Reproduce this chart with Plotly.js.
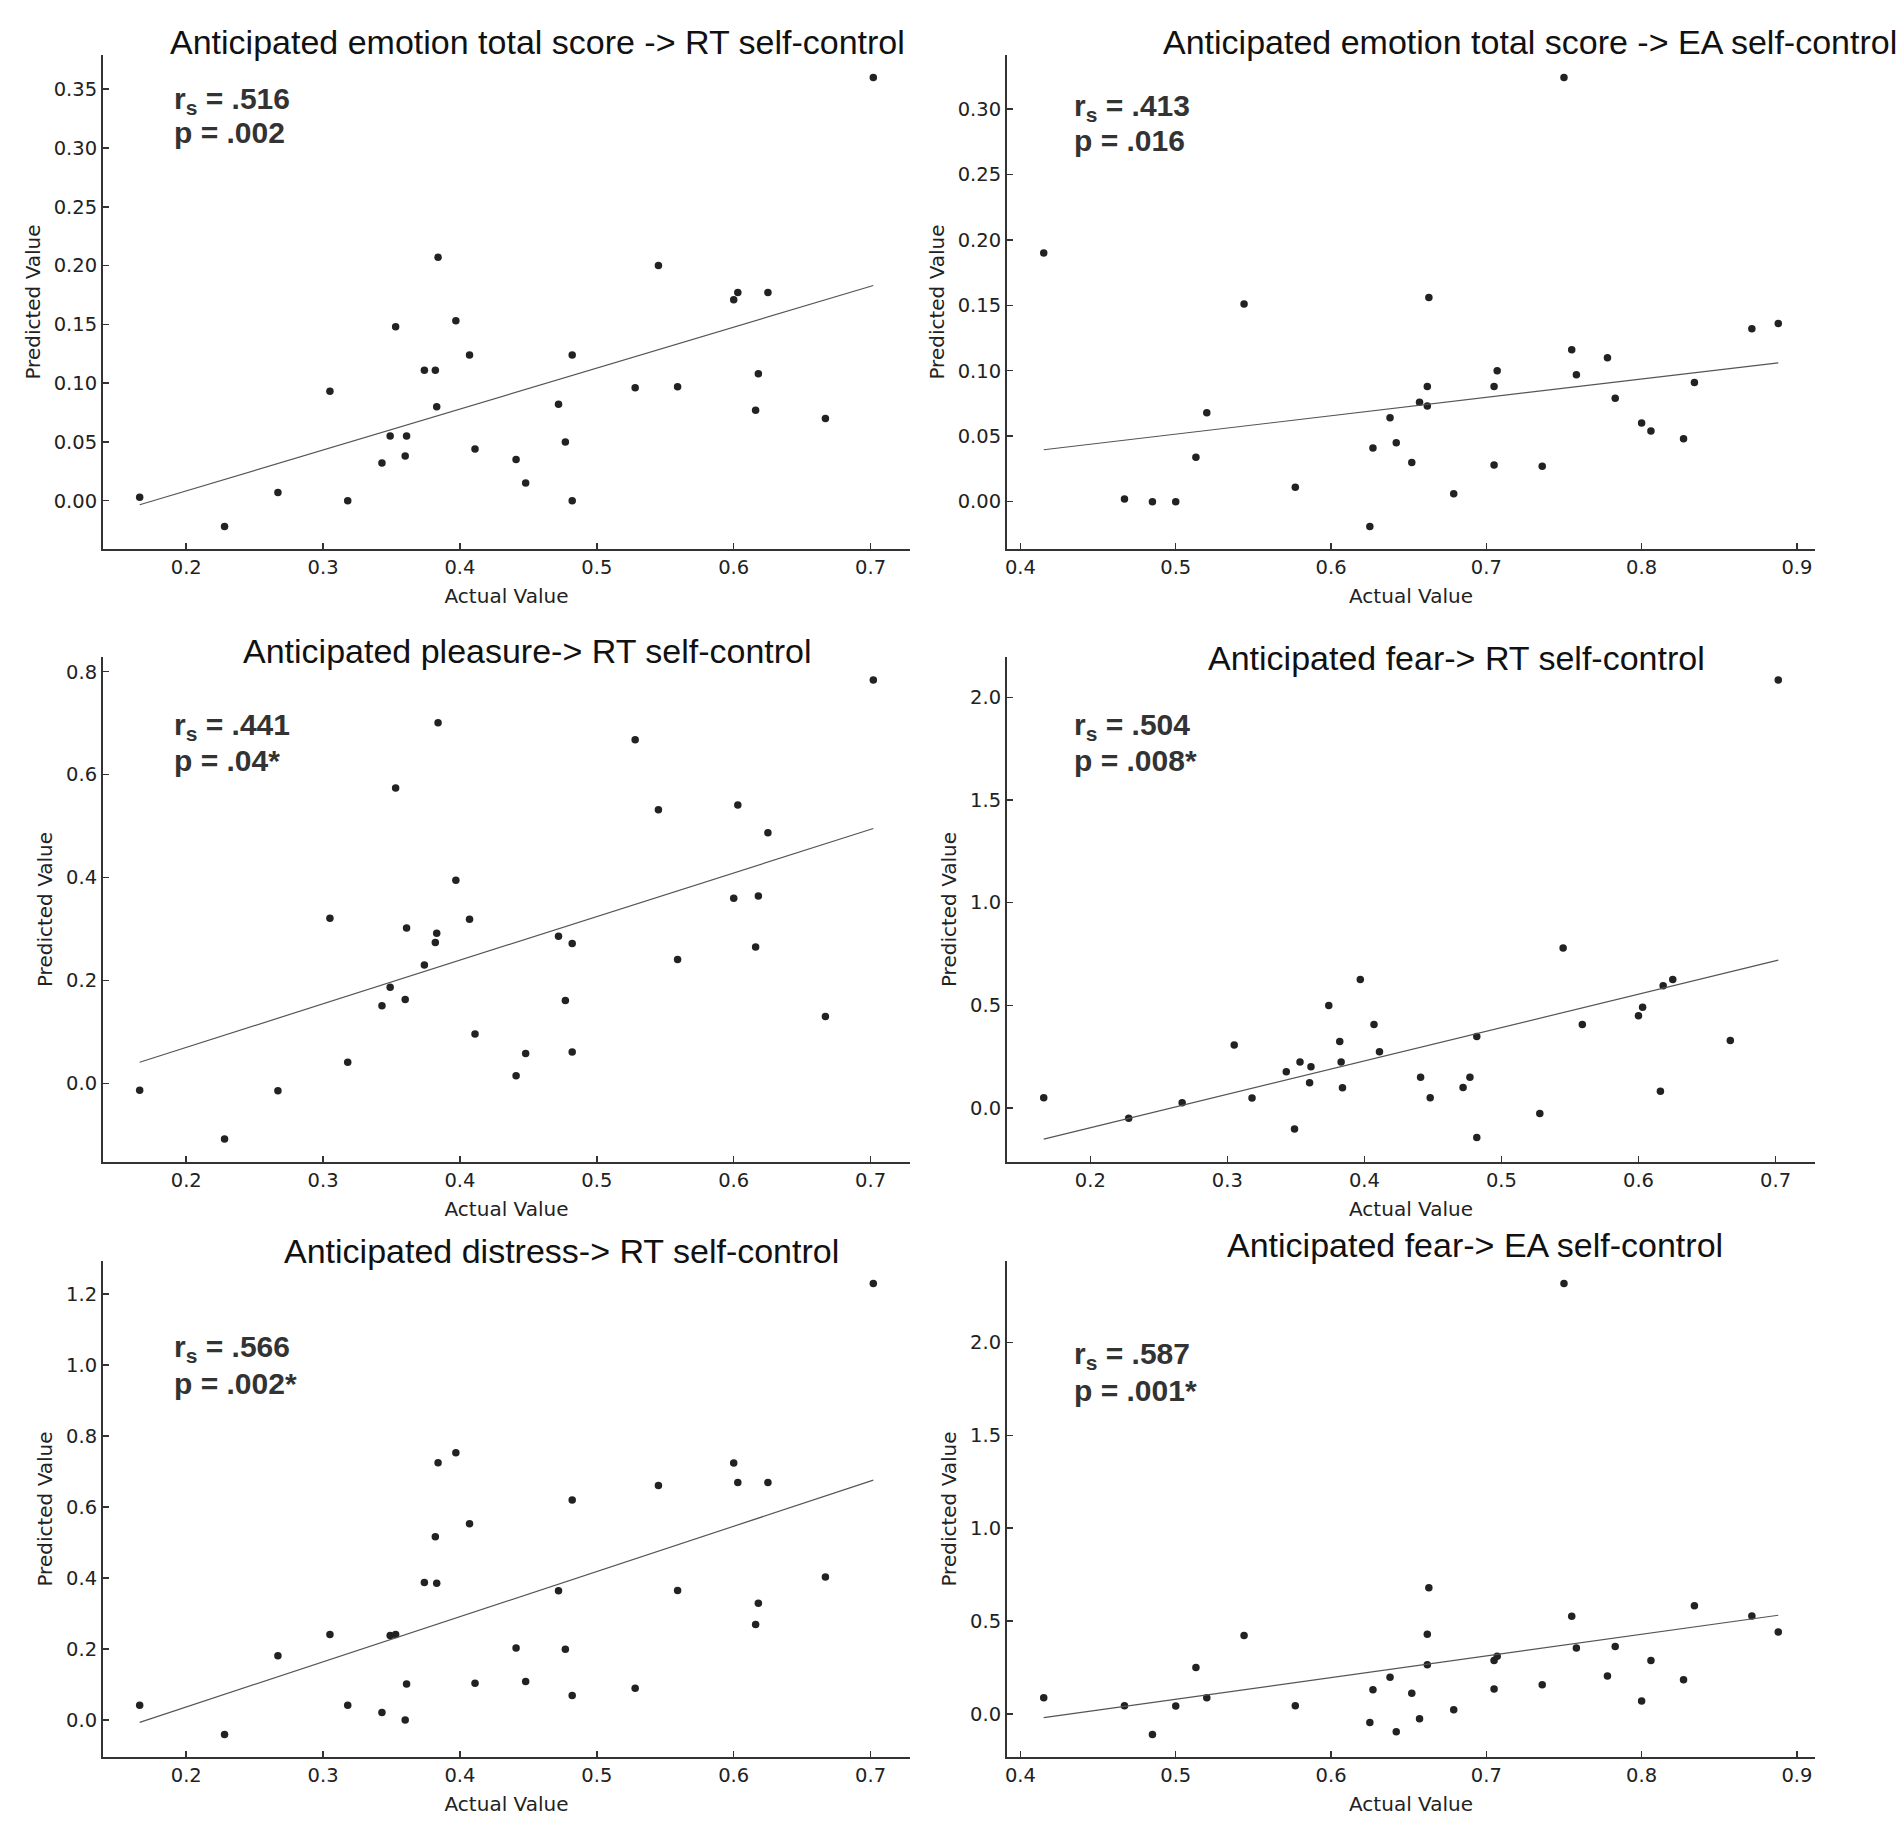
<!DOCTYPE html>
<html>
<head>
<meta charset="utf-8">
<script src="https://cdn.plot.ly/plotly-3.0.1.min.js"></script>
<style>
  html, body { margin: 0; padding: 0; background: #fff; }
  #figure { width: 1902px; height: 1840px; }
</style>
</head>
<body>
<div id="figure"></div>
<script>
FIGURE = document.getElementById('figure')

// actual values (x), shared by the panels of each column
const rtActual = [0.166, 0.228, 0.267, 0.305, 0.318, 0.343, 0.349, 0.353, 0.360, 0.361, 0.374,
    0.382, 0.383, 0.384, 0.397, 0.407, 0.411, 0.441, 0.448, 0.472, 0.477, 0.482, 0.482,
    0.528, 0.545, 0.559, 0.600, 0.603, 0.616, 0.618, 0.625, 0.667, 0.702]
const eaActual = [0.415, 0.467, 0.485, 0.500, 0.513, 0.520, 0.544, 0.577, 0.625, 0.627, 0.638,
    0.642, 0.652, 0.657, 0.662, 0.662, 0.663, 0.679, 0.705, 0.705, 0.707, 0.736, 0.750,
    0.755, 0.758, 0.778, 0.783, 0.800, 0.806, 0.827, 0.834, 0.871, 0.888]

// predicted values (y)
const totalRT = [0.003, -0.022, 0.007, 0.093, 0.000, 0.032, 0.055, 0.148, 0.038, 0.055, 0.111,
    0.111, 0.080, 0.207, 0.153, 0.124, 0.044, 0.035, 0.015, 0.082, 0.050, 0.000, 0.124,
    0.096, 0.200, 0.097, 0.171, 0.177, 0.077, 0.108, 0.177, 0.070, 0.360]
const totalEA = [0.190, 0.002, 0.000, 0.000, 0.034, 0.068, 0.151, 0.011, -0.019, 0.041, 0.064,
    0.045, 0.030, 0.076, 0.088, 0.073, 0.156, 0.006, 0.088, 0.028, 0.100, 0.027, 0.324,
    0.116, 0.097, 0.110, 0.079, 0.060, 0.054, 0.048, 0.091, 0.132, 0.136]
const pleasureRT = [-0.013, -0.108, -0.014, 0.321, 0.041, 0.151, 0.187, 0.574, 0.163, 0.302, 0.230,
    0.274, 0.292, 0.701, 0.395, 0.319, 0.096, 0.015, 0.058, 0.286, 0.161, 0.061, 0.272,
    0.668, 0.532, 0.241, 0.360, 0.541, 0.265, 0.364, 0.487, 0.130, 0.784]
const fearRT = [0.050, -0.051, 0.025, 0.307, 0.048, 0.176, -0.103, 0.224, 0.123, 0.200, 0.499,
    0.323, 0.224, 0.098, 0.626, 0.406, 0.273, 0.149, 0.050, 0.099, 0.149, -0.144, 0.348,
    -0.027, 0.779, 0.406, 0.449, 0.490, 0.081, 0.595, 0.626, 0.328, 2.085]
const distressRT = [0.041, -0.041, 0.181, 0.241, 0.041, 0.021, 0.238, 0.241, 0.000, 0.101, 0.387,
    0.516, 0.385, 0.725, 0.753, 0.553, 0.103, 0.203, 0.108, 0.364, 0.199, 0.069, 0.620,
    0.089, 0.661, 0.365, 0.724, 0.669, 0.269, 0.329, 0.669, 0.403, 1.230]
const fearEA = [0.088, 0.045, -0.110, 0.043, 0.250, 0.088, 0.423, 0.045, -0.045, 0.131, 0.198,
    -0.095, 0.112, -0.025, 0.430, 0.265, 0.679, 0.023, 0.288, 0.135, 0.311, 0.158, 2.317,
    0.526, 0.356, 0.205, 0.364, 0.070, 0.288, 0.184, 0.583, 0.527, 0.441]

// titles and stats
const titles = [
    'Anticipated emotion total score -> RT self-control',
    'Anticipated emotion total score -> EA self-control',
    'Anticipated pleasure-> RT self-control',
    'Anticipated fear-> RT self-control',
    'Anticipated distress-> RT self-control',
    'Anticipated fear-> EA self-control'
]
const rsValues = ['.516', '.413', '.441', '.504', '.566', '.587']
const pValues = ['.002', '.016', '.04*', '.008*', '.002*', '.001*']

// tick labels
const xTicksRT = ['0.2', '0.3', '0.4', '0.5', '0.6', '0.7']
const xTicksEA = ['0.4', '0.5', '0.6', '0.7', '0.8', '0.9']
const yTicksTotalRT = ['0.00', '0.05', '0.10', '0.15', '0.20', '0.25', '0.30', '0.35']
const yTicksTotalEA = ['0.00', '0.05', '0.10', '0.15', '0.20', '0.25', '0.30']
const yTicksPleasure = ['0.0', '0.2', '0.4', '0.6', '0.8']
const yTicksFear = ['0.0', '0.5', '1.0', '1.5', '2.0']
const yTicksDistress = ['0.0', '0.2', '0.4', '0.6', '0.8', '1.0', '1.2']

const W = 1902, H = 1840
const px = v => v / W
const py = v => 1 - v / H

// pixel boxes of each panel [left, right, top, bottom], title centre, stats anchor
const panels = [
    {x: rtActual, y: totalRT, xt: xTicksRT, yt: yTicksTotalRT, box: [103, 910, 55, 549], tc: [537, 42], st: [173, 100, 132]},
    {x: eaActual, y: totalEA, xt: xTicksEA, yt: yTicksTotalEA, box: [1007, 1815, 55, 549], tc: [1530, 42], st: [1073, 108, 141]},
    {x: rtActual, y: pleasureRT, xt: xTicksRT, yt: yTicksPleasure, box: [103, 910, 657, 1162], tc: [527, 651], st: [173, 726, 760]},
    {x: rtActual, y: fearRT, xt: xTicksRT, yt: yTicksFear, box: [1007, 1815, 657, 1162], tc: [1456, 658], st: [1073, 726, 760]},
    {x: rtActual, y: distressRT, xt: xTicksRT, yt: yTicksDistress, box: [103, 910, 1261, 1757], tc: [561, 1251], st: [173, 1348, 1383]},
    {x: eaActual, y: fearEA, xt: xTicksEA, yt: yTicksFear, box: [1007, 1815, 1261, 1757], tc: [1475, 1245], st: [1073, 1355, 1390]}
]

function linearFit(xs, ys) {
    let n = xs.length
    let mx = xs.reduce((a, b) => a + b, 0) / n
    let my = ys.reduce((a, b) => a + b, 0) / n
    let sxy = 0, sxx = 0
    for (let i = 0; i < n; i++) {
        sxy += (xs[i] - mx) * (ys[i] - my)
        sxx += (xs[i] - mx) * (xs[i] - mx)
    }
    let slope = sxy / sxx
    return [slope, my - slope * mx]
}

// matplotlib-like 5% padding
function padded(vals) {
    let lo = Math.min(...vals), hi = Math.max(...vals)
    let m = (hi - lo) * 0.05
    return [lo - m, hi + m]
}

const tickFont = {family: 'DejaVu Sans', size: 19.5, color: '#222'}
const axisTitleFont = {family: 'DejaVu Sans', size: 20, color: '#222'}
const titleFont = {family: 'Liberation Sans', size: 34, color: '#111'}
const statFont = {family: 'Liberation Sans', size: 30, color: '#333', weight: 'bold'}

let traces = []
let layout = {
    width: W, height: H,
    margin: {l: 0, r: 0, t: 0, b: 0},
    paper_bgcolor: '#fff', plot_bgcolor: '#fff',
    showlegend: false,
    annotations: []
}

panels.forEach((p, i) => {
    let k = i === 0 ? '' : String(i + 1)
    let [slope, icpt] = linearFit(p.x, p.y)
    let x0 = Math.min(...p.x), x1 = Math.max(...p.x)
    let fitY = [slope * x0 + icpt, slope * x1 + icpt]

    traces.push({
        x: p.x, y: p.y, xaxis: 'x' + k, yaxis: 'y' + k,
        type: 'scatter', mode: 'markers',
        marker: {color: '#222', size: 7.5},
        hoverinfo: 'x+y'
    })
    traces.push({
        x: [x0, x1], y: fitY, xaxis: 'x' + k, yaxis: 'y' + k,
        type: 'scatter', mode: 'lines',
        line: {color: '#555', width: 1.2},
        hoverinfo: 'skip'
    })

    let [l, r, t, b] = p.box
    let axisCommon = {
        showgrid: false, zeroline: false, showline: true,
        linecolor: '#333', linewidth: 2,
        ticks: 'inside', ticklen: 6, tickwidth: 1.5, tickcolor: '#333',
        tickfont: tickFont, tickmode: 'array'
    }
    layout['xaxis' + k] = Object.assign({}, axisCommon, {
        domain: [px(l), px(r)], anchor: 'y' + k,
        range: padded(p.x),
        tickvals: p.xt.map(Number), ticktext: p.xt,
        title: {text: 'Actual Value', font: axisTitleFont, standoff: 11}
    })
    layout['yaxis' + k] = Object.assign({}, axisCommon, {
        domain: [py(b), py(t)], anchor: 'x' + k,
        range: padded(p.y.concat(fitY)),
        tickvals: p.yt.map(Number), ticktext: p.yt,
        title: {text: 'Predicted Value', font: axisTitleFont, standoff: 8}
    })

    layout.annotations.push({
        xref: 'paper', yref: 'paper', x: px(p.tc[0]), y: py(p.tc[1]),
        xanchor: 'center', yanchor: 'middle', showarrow: false,
        text: titles[i], font: titleFont
    })
    layout.annotations.push({
        xref: 'paper', yref: 'paper', x: px(p.st[0]), y: py(p.st[1]),
        xanchor: 'left', yanchor: 'middle', showarrow: false, borderpad: 0,
        text: 'r<sub>s</sub> = ' + rsValues[i], font: statFont
    })
    layout.annotations.push({
        xref: 'paper', yref: 'paper', x: px(p.st[0]), y: py(p.st[2]),
        xanchor: 'left', yanchor: 'middle', showarrow: false, borderpad: 0,
        text: 'p = ' + pValues[i], font: statFont
    })
})

Plotly.newPlot(FIGURE, traces, layout, {displayModeBar: false, staticPlot: true})
</script>
</body>
</html>
